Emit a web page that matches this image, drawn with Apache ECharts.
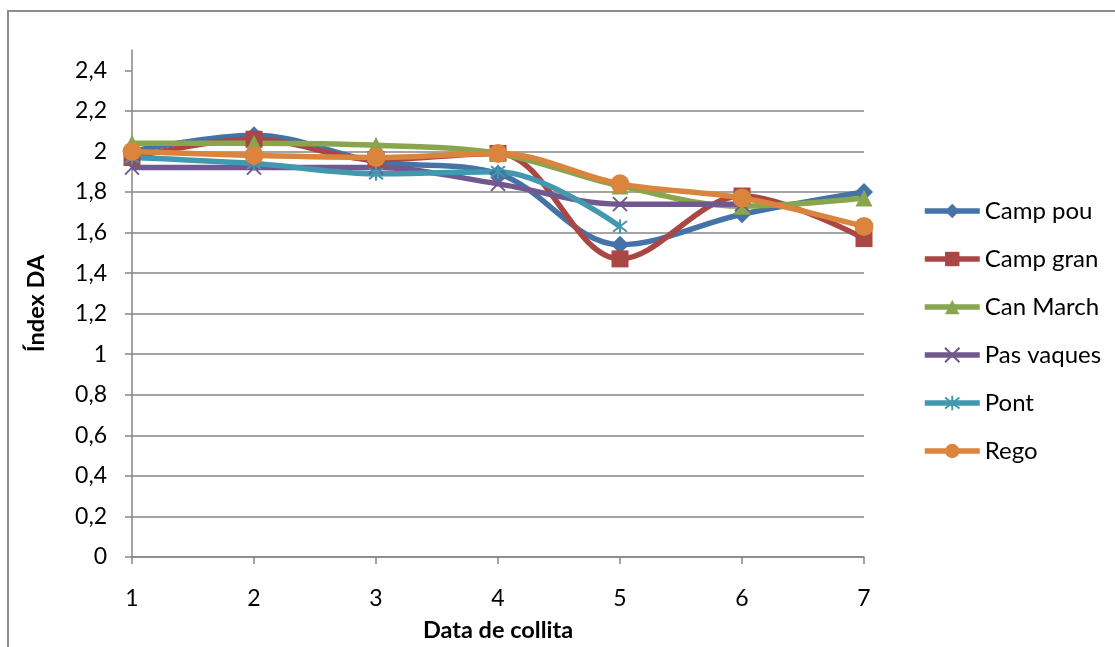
<!DOCTYPE html>
<html>
<head>
<meta charset="utf-8">
<script src="https://cdn.jsdelivr.net/npm/echarts@6/dist/echarts.min.js"></script>
<style>
  html, body { margin: 0; padding: 0; background: #fff; }
  #chart { width: 1115px; height: 647px; }
</style>
</head>
<body>
<div id="chart"></div>
<script>
// Harvest dates (x categories)
const dates = ['1', '2', '3', '4', '5', '6', '7'];

// DA index per plot
const campPou   = [2.00, 2.08, 1.95, 1.89, 1.54, 1.69, 1.80];
const campGran  = [1.97, 2.06, 1.96, 1.99, 1.47, 1.78, 1.57];
const canMarch  = [2.04, 2.04, 2.03, 1.99, 1.83, 1.73, 1.77];
const pasVaques = [1.92, 1.92, 1.92, 1.84, 1.74, 1.74, null];
const pont      = [1.97, 1.94, 1.89, 1.90, 1.63, null, null];
const rego      = [2.00, 1.98, 1.97, 1.99, 1.84, 1.77, 1.63];

// Y tick values
const yTicks = [0, 0.2, 0.4, 0.6, 0.8, 1, 1.2, 1.4, 1.6, 1.8, 2, 2.2, 2.4];

const FONT = 'Lato';
const GRID_GRAY = '#868686';

const crossPath = 'path://M0,0L10,10M10,0L0,10';
const starPath = 'path://M0,0L10,10M10,0L0,10M5,-1.5L5,11.5';

function lineSeries(name, data, color, symbol, size, stroked) {
  return {
    name: name,
    type: 'line',
    data: data,
    smooth: 0.35,
    connectNulls: false,
    symbol: symbol,
    symbolSize: size,
    showAllSymbol: true,
    lineStyle: { color: color, width: 5.5 },
    itemStyle: stroked
      ? { color: 'rgba(0,0,0,0)', borderColor: color, borderWidth: 2 }
      : { color: color, borderColor: color, borderWidth: 0 },
    emphasis: { disabled: true },
    z: 2
  };
}

const chart = echarts.init(document.getElementById('chart'), null, { renderer: 'canvas' });

chart.setOption({
  animation: false,
  backgroundColor: '#ffffff',
  graphic: [{
    type: 'rect',
    shape: { x: 8, y: 11, width: 1130, height: 660 },
    style: { fill: 'none', stroke: '#8c8c8c', lineWidth: 2 },
    silent: true,
    z: -1
  }],
  grid: { left: 132, right: 251, top: 50, bottom: 86, containLabel: false },
  legend: {
    orient: 'vertical',
    left: 922,
    top: 199,
    padding: 0,
    itemWidth: 55,
    itemHeight: 18,
    itemGap: 24,
    lineStyle: { width: 5.5 },
    textStyle: { fontFamily: FONT, fontSize: 24, color: '#000' },
    data: ['Camp pou', 'Camp gran', 'Can March', 'Pas vaques', 'Pont', 'Rego']
  },
  xAxis: {
    type: 'category',
    data: dates,
    boundaryGap: false,
    name: 'Data de collita',
    nameLocation: 'middle',
    nameGap: 61,
    nameTextStyle: { fontFamily: FONT, fontSize: 23.5, fontWeight: 'bold', color: '#000' },
    axisLine: { lineStyle: { color: GRID_GRAY, width: 1.5 } },
    axisTick: { show: true, length: 7, alignWithLabel: true, lineStyle: { color: GRID_GRAY, width: 1.5 } },
    axisLabel: { fontFamily: FONT, fontSize: 23, color: '#000', margin: 30 },
    splitLine: { show: false }
  },
  yAxis: {
    type: 'value',
    min: 0,
    max: 2.5,
    interval: 0.2,
    name: 'Índex DA',
    nameLocation: 'middle',
    nameGap: 84,
    nameRotate: 90,
    nameTextStyle: { fontFamily: FONT, fontSize: 23.5, fontWeight: 'bold', color: '#000' },
    axisLine: { show: true, lineStyle: { color: GRID_GRAY, width: 1.5 } },
    axisTick: { show: true, length: 7, customValues: yTicks, lineStyle: { color: GRID_GRAY, width: 1.5 } },
    axisLabel: {
      fontFamily: FONT, fontSize: 23, color: '#000', margin: 25,
      customValues: yTicks,
      formatter: v => String(Math.round(v * 10) / 10).replace('.', ',')
    },
    splitLine: { show: true, showMaxLine: false, lineStyle: { color: GRID_GRAY, width: 1.5 } }
  },
  series: [
    lineSeries('Camp pou', campPou, '#4572A7', 'diamond', 18, false),
    lineSeries('Camp gran', campGran, '#AA4643', 'rect', 17, false),
    lineSeries('Can March', canMarch, '#89A54E', 'triangle', 17, false),
    lineSeries('Pas vaques', pasVaques, '#71588F', crossPath, 14, true),
    lineSeries('Pont', pont, '#4198AF', starPath, 14, true),
    lineSeries('Rego', rego, '#DB843D', 'circle', 19, false)
  ]
});
</script>
</body>
</html>
